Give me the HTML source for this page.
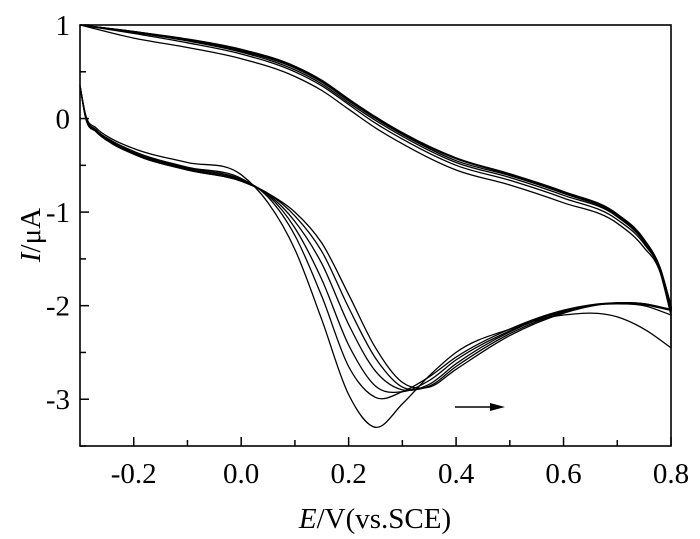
<!DOCTYPE html>
<html><head><meta charset="utf-8"><style>
html,body{margin:0;padding:0;background:#fff;}
svg{display:block;font-family:"Liberation Serif",serif;}
</style></head><body>
<svg id="chart" width="700" height="539" viewBox="0 0 700 539">
<g id="marks"></g>
<rect x="80" y="25" width="591" height="421" fill="none" stroke="#000" stroke-width="1.6"/>
<g id="ticks"></g>
<g id="xlabels" font-size="29" text-anchor="middle"></g>
<g id="ylabels" font-size="29" text-anchor="end"></g>
<text x="375" y="528" font-size="29" text-anchor="middle"><tspan font-style="italic">E</tspan>/V(vs.SCE)</text>
<text transform="translate(40,235) rotate(-90)" font-size="29" text-anchor="middle"><tspan font-style="italic">I</tspan>/μA</text>
<g>
<line x1="455" y1="407" x2="492" y2="407" stroke="#000" stroke-width="1.6"/>
<polygon points="505,407 490,403 490,411" fill="#000"/>
</g>
</svg>
<script>
const X_UP=[-0.3,-0.2,-0.1,0,0.1,0.15,0.2,0.25,0.3,0.4,0.5,0.6,0.7,0.75,0.78,0.8];
const UP_A=[1.0,0.86,0.76,0.64,0.45,0.3,0.1,-0.1,-0.27,-0.55,-0.71,-0.9,-1.12,-1.38,-1.65,-2.1];
const UP_B=[1.0,0.91,0.81,0.69,0.5,0.35,0.15,-0.05,-0.22,-0.5,-0.66,-0.85,-1.08,-1.34,-1.63,-2.05];
const UP_C=[1.0,0.92,0.83,0.71,0.52,0.37,0.17,-0.02,-0.19,-0.47,-0.63,-0.82,-1.05,-1.32,-1.62,-2.02];
const UP_D=[1.0,0.93,0.84,0.72,0.54,0.39,0.19,0.0,-0.17,-0.45,-0.61,-0.8,-1.04,-1.31,-1.61,-2.0];
const UP_E=[1.0,0.93,0.84,0.73,0.55,0.4,0.2,0.01,-0.16,-0.43,-0.6,-0.79,-1.03,-1.3,-1.6,-2.0];
const UP_F=[1.0,0.93,0.85,0.74,0.56,0.41,0.21,0.02,-0.15,-0.42,-0.59,-0.78,-1.02,-1.29,-1.6,-2.0];
const X_LOW=[-0.3,-0.29,-0.27,-0.24,-0.2,-0.1,0,0.05,0.1,0.15,0.2,0.25,0.3,0.35,0.4,0.5,0.6,0.7,0.75,0.8];
const LOW_A=[0.35,0.05,-0.1,-0.22,-0.32,-0.47,-0.6,-0.9,-1.4,-2.15,-2.95,-3.3,-3.05,-2.75,-2.5,-2.25,-2.1,-2.12,-2.25,-2.45];
const LOW_B=[0.35,0.04,-0.12,-0.24,-0.35,-0.52,-0.64,-0.84,-1.25,-1.9,-2.65,-2.98,-2.92,-2.76,-2.55,-2.25,-2.05,-1.98,-2.0,-2.1];
const LOW_C=[0.35,0.03,-0.13,-0.25,-0.36,-0.53,-0.65,-0.82,-1.17,-1.72,-2.42,-2.86,-2.92,-2.8,-2.58,-2.27,-2.05,-1.97,-1.99,-2.05];
const LOW_D=[0.35,0.02,-0.13,-0.26,-0.37,-0.54,-0.66,-0.81,-1.1,-1.55,-2.2,-2.7,-2.9,-2.84,-2.62,-2.28,-2.06,-1.97,-1.98,-2.05];
const LOW_E=[0.35,0.02,-0.14,-0.26,-0.38,-0.55,-0.67,-0.8,-1.04,-1.42,-2.02,-2.56,-2.87,-2.86,-2.65,-2.3,-2.07,-1.97,-1.98,-2.05];
const LOW_F=[0.35,0.02,-0.14,-0.27,-0.38,-0.55,-0.67,-0.8,-1.0,-1.33,-1.88,-2.45,-2.82,-2.87,-2.68,-2.32,-2.08,-1.97,-1.98,-2.04];
const X_TICKS=[-0.2,0.0,0.2,0.4,0.6,0.8];
const X_TICK_LABELS=["-0.2","0.0","0.2","0.4","0.6","0.8"];
const Y_TICKS=[1,0,-1,-2,-3];
const Y_TICK_LABELS=["1","0","-1","-2","-3"];

const xs=v=>80+(v+0.3)*(591/1.1);
const ys=v=>25+(1-v)*(421/4.5);
const NS="http://www.w3.org/2000/svg";

// cubic Hermite through (x,y) data with non-uniform spacing, drawn in pixel space
function smooth(X,Y){
  const n=X.length, m=[];
  for(let i=0;i<n;i++){
    if(i===0) m.push((Y[1]-Y[0])/(X[1]-X[0]));
    else if(i===n-1) m.push((Y[n-1]-Y[n-2])/(X[n-1]-X[n-2]));
    else{
      const h0=X[i]-X[i-1],h1=X[i+1]-X[i];
      const s0=(Y[i]-Y[i-1])/h0,s1=(Y[i+1]-Y[i])/h1;
      m.push((s0*h1+s1*h0)/(h0+h1));
    }
  }
  let d="M"+xs(X[0]).toFixed(1)+","+ys(Y[0]).toFixed(1);
  for(let i=0;i<n-1;i++){
    const h=X[i+1]-X[i];
    const c1x=X[i]+h/3,c1y=Y[i]+m[i]*h/3;
    const c2x=X[i+1]-h/3,c2y=Y[i+1]-m[i+1]*h/3;
    d+="C"+xs(c1x).toFixed(1)+","+ys(c1y).toFixed(1)+" "+xs(c2x).toFixed(1)+","+ys(c2y).toFixed(1)+" "+xs(X[i+1]).toFixed(1)+","+ys(Y[i+1]).toFixed(1);
  }
  return d;
}
const ups=[UP_A,UP_B,UP_C,UP_D,UP_E,UP_F];
const lows=[LOW_A,LOW_B,LOW_C,LOW_D,LOW_E,LOW_F];
const marks=document.getElementById("marks");
ups.forEach((u,k)=>{
  const p1=document.createElementNS(NS,"path");
  p1.setAttribute("d",smooth(X_UP,u));
  p1.setAttribute("fill","none");p1.setAttribute("stroke","#000");p1.setAttribute("stroke-width","1.3");
  
  
  marks.appendChild(p1);
  const p2=document.createElementNS(NS,"path");
  p2.setAttribute("d",smooth(X_LOW,lows[k])+"L"+xs(X_UP[X_UP.length-1]).toFixed(1)+","+ys(u[u.length-1]).toFixed(1));
  p2.setAttribute("fill","none");p2.setAttribute("stroke","#000");p2.setAttribute("stroke-width","1.3");
  
  
  marks.appendChild(p2);
});
const ticks=document.getElementById("ticks");
function tick(x1,y1,x2,y2){
  const l=document.createElementNS(NS,"line");
  l.setAttribute("x1",x1);l.setAttribute("y1",y1);l.setAttribute("x2",x2);l.setAttribute("y2",y2);
  l.setAttribute("stroke","#000");l.setAttribute("stroke-width","1.5");
  
  
  ticks.appendChild(l);
}
for(let v=-0.2;v<=0.81;v+=0.1){const x=xs(v);const major=Math.abs(Math.round(v*10)%2)===0;tick(x,446,x,446-(major?9:6));}
for(let v=-3.5;v<=1.01;v+=0.5){const y=ys(v);const major=Math.abs(v%1)<0.01;tick(80,y,80+(major?9:6),y);}
const xl=document.getElementById("xlabels");
X_TICKS.forEach((v,i)=>{const t=document.createElementNS(NS,"text");t.setAttribute("x",xs(v));t.setAttribute("y",483);t.textContent=X_TICK_LABELS[i];
  
  
  xl.appendChild(t);});
const yl=document.getElementById("ylabels");
Y_TICKS.forEach((v,i)=>{const t=document.createElementNS(NS,"text");t.setAttribute("x",70);t.setAttribute("y",ys(v)+10);t.textContent=Y_TICK_LABELS[i];
  
  
  yl.appendChild(t);});
</script>
</body></html>
